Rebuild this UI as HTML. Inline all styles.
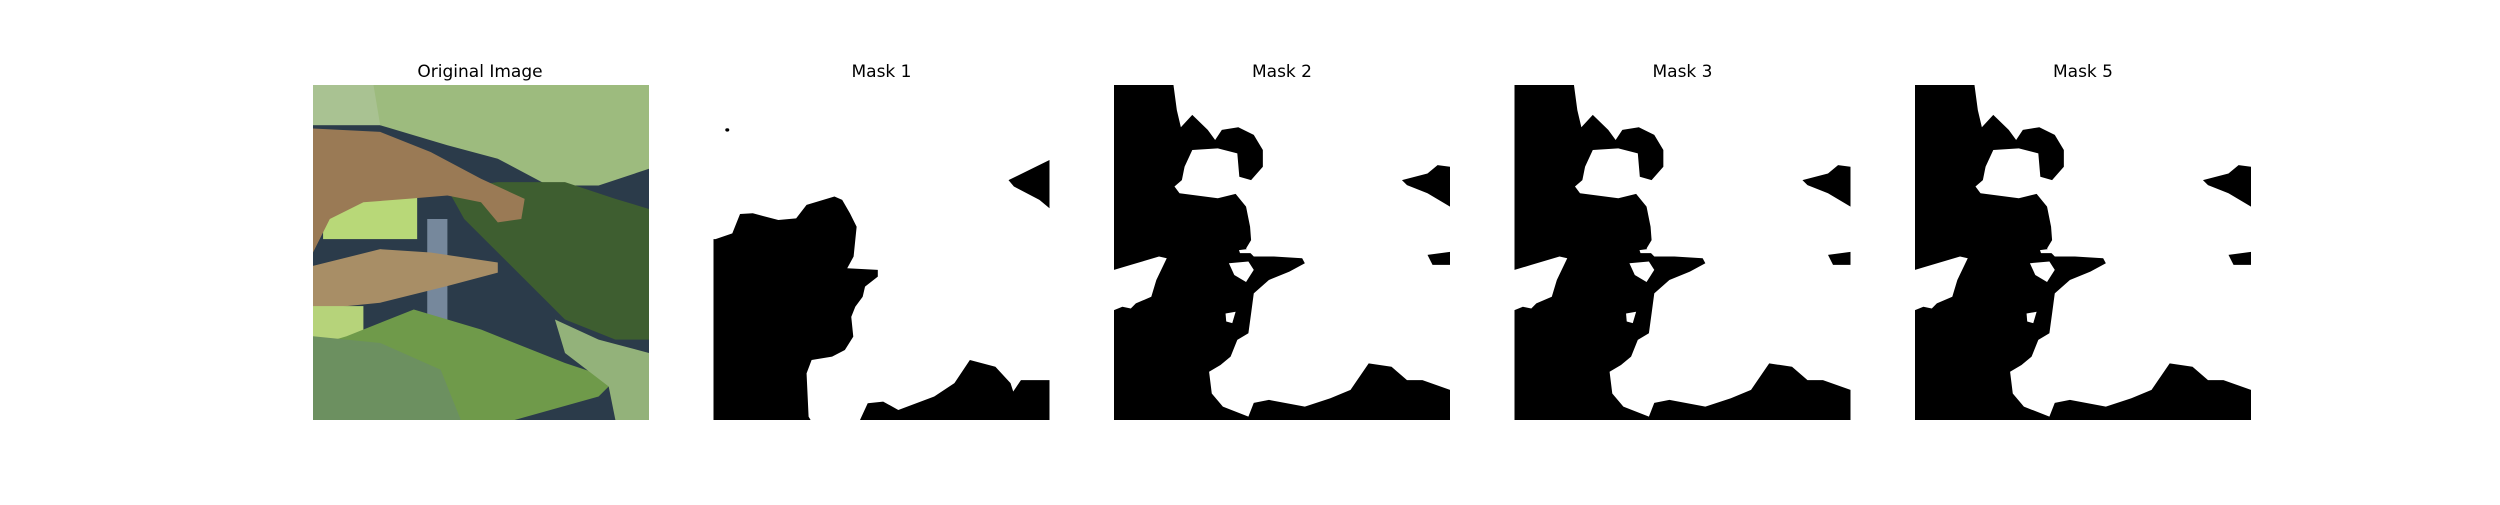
<!DOCTYPE html>
<html><head><meta charset="utf-8"><style>
html,body{margin:0;padding:0;background:#fff;}
svg text{font-family:"DejaVu Sans","Liberation Sans",sans-serif;}
</style></head><body>
<svg width="2500" height="500" viewBox="0 0 2500 500" xmlns="http://www.w3.org/2000/svg">
<defs>
  <g id="m2">
    <rect x="0" y="0" width="100" height="100" fill="#fff"/>
    <polygon fill="#000" points="0,0 17.7,0 18.7,7.5 19.9,12.6 23.3,8.9 27.9,13.4 30.1,16.4 32.1,13.4 37,12.6 41.6,14.9 44.3,19.4 44.3,24.4 40.8,28.4 37.3,27.4 36.7,20.4 30.9,18.9 23.3,19.4 21,24.4 20.2,28.4 18,30.3 19.5,32.3 30.9,33.8 36.2,32.5 39.3,36.3 40.5,42.3 40.8,46.3 39.3,48.8 41.6,51.2 47.6,51.2 56,51.7 56.8,53.2 52.2,55.7 46.1,58.2 41.6,62.2 40.8,68.2 40,74.1 36.7,76.1 34.7,81.1 31.7,83.6 28.3,85.6 29.1,92.1 32.4,96 40,99 41.6,94.9 46.1,94 56.8,96 64.4,93.5 70.4,91 75.8,83.1 82.6,84.1 87.2,88.1 91.8,88.1 100,91 100,100 0,100"/>
    <polygon fill="#fff" points="0,67.2 2.5,66.2 5,66.7 6.5,65.2 11.1,63.2 12.6,58.2 15.7,51.7 13.4,51.2 5,53.7 0,55.2"/>
    <polygon fill="#fff" points="34.2,53.2 40,52.7 41.6,55.2 39.3,58.8 35.8,56.7"/>
    <polygon fill="#fff" points="33.2,68.2 36.2,67.7 35.2,71.1 33.4,70.6"/>
    <polygon fill="#fff" points="37.2,49.3 41,48.8 41,50.2 37.5,50.2"/>
    <polygon fill="#000" points="100,24.4 96.3,23.9 93.3,26.4 85.7,28.4 87.2,29.9 93.3,32.3 100,36.3"/>
    <polygon fill="#000" points="93.3,50.7 100,49.8 100,53.7 94.8,53.7"/>
  </g>
</defs>

<text x="480" y="77" font-size="17" text-anchor="middle" fill="#000">Original Image</text>
<svg x="313" y="85" width="336" height="335" viewBox="0 0 100 100" preserveAspectRatio="none">
  <rect width="100" height="100" fill="#2b3b4a"/>
  <rect x="34" y="40" width="6" height="60" fill="#8a9cb0" opacity="0.8"/>
  <rect x="0" y="0" width="22" height="12" fill="#a9c292"/>
  <polygon fill="#9dbb7e" points="18,0 100,0 100,25 85,30 70,30 55,22 40,18 30,15 20,12"/>
  <rect x="3" y="33" width="28" height="13" fill="#b8d878"/>
  <polygon fill="#3e5e30" points="40,31 55,29 75,29 90,34 100,37 100,76 90,76 75,70 65,60 55,50 45,40"/>
  <polygon fill="#9a7a55" points="0,13 20,14 35,20 50,28 63,34 62,40 55,41 50,35 40,33 28,34 15,35 5,40 0,50"/>
  <polygon fill="#a88e66" points="0,54 20,49 35,50 55,53 55,56 40,60 20,65 0,67"/>
  <rect x="0" y="66" width="15" height="10" fill="#b6d37a"/>
  <polygon fill="#6f9a4a" points="10,75 30,67 50,73 75,83 90,88 85,93 60,100 0,100 0,78"/>
  <polygon fill="#93b27a" points="72,70 85,76 100,80 100,100 90,100 88,90 75,80"/>
  <polygon fill="#6c9060" points="0,75 20,77 38,85 44,100 0,100"/>
</svg>

<text x="881.5" y="77" font-size="17" text-anchor="middle" fill="#000">Mask 1</text>
<svg x="713.5" y="85" width="336" height="335" viewBox="0 0 100 100" preserveAspectRatio="none">
  <rect width="100" height="100" fill="#fff"/>
  <polygon fill="#000" points="0,46 0.6,46 5.6,44.3 7.9,38.5 11.7,38.3 19.3,40.3 24.6,39.8 27.7,35.8 36,33.3 38.3,34.3 40.6,38.3 42.6,42.3 41.7,51.2 39.8,54.7 48.9,55.2 48.9,57.2 45.1,60.2 44.4,63.2 42.2,66.2 41,69.2 41.6,75.1 39.1,79.1 35.3,81.1 29.2,82.1 27.7,86.1 28.3,99 28.9,100 43.6,100 45.9,95 50.5,94.5 55,97 65.7,93 71.7,89 76.3,82.1 83.9,84.1 88.4,89 89.2,91.5 91.5,88.1 100,88.1 100,100 0,100"/>
  <polygon fill="#000" points="100,22.4 87.8,28.4 89.4,30.3 97,34.3 100,36.8"/>
  <ellipse cx="4.1" cy="13.4" rx="0.6" ry="0.5" fill="#000"/>
</svg>

<text x="1282" y="77" font-size="17" text-anchor="middle" fill="#000">Mask 2</text>
<svg x="1114" y="85" width="336" height="335" viewBox="0 0 100 100" preserveAspectRatio="none"><use href="#m2"/></svg>

<text x="1682.5" y="77" font-size="17" text-anchor="middle" fill="#000">Mask 3</text>
<svg x="1514.5" y="85" width="336" height="335" viewBox="0 0 100 100" preserveAspectRatio="none"><use href="#m2"/></svg>

<text x="2083" y="77" font-size="17" text-anchor="middle" fill="#000">Mask 5</text>
<svg x="1915" y="85" width="336" height="335" viewBox="0 0 100 100" preserveAspectRatio="none"><use href="#m2"/></svg>
</svg>
</body></html>
